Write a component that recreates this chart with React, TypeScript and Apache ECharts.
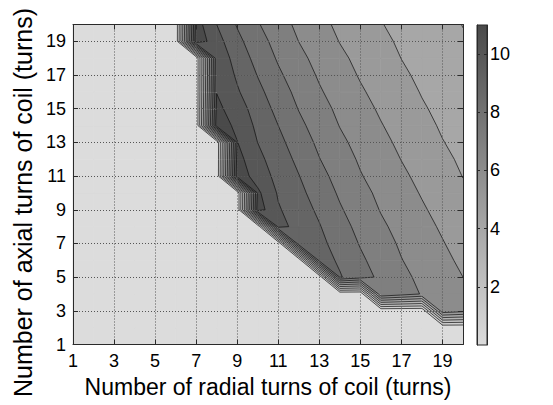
import React, { useEffect, useRef } from "react";
import * as echarts from "echarts";

// ---------- data ----------
const xValues = [1, 2, 3, 4, 5, 6, 7, 8, 9, 10, 11, 12, 13, 14, 15, 16, 17, 18, 19, 20];
const yValues = [1, 2, 3, 4, 5, 6, 7, 8, 9, 10, 11, 12, 13, 14, 15, 16, 17, 18, 19, 20];

// one row per axial turn count (y = 1..20); columns are radial turns x = 1..20 (0 = infeasible)
const row01 = [0, 0, 0, 0, 0, 0, 0, 0, 0, 0, 0, 0, 0, 0, 0, 0, 0, 0, 0, 0];
const row02 = [0, 0, 0, 0, 0, 0, 0, 0, 0, 0, 0, 0, 0, 0, 0, 0, 0, 0, 0, 0];
const row03 = [0, 0, 0, 0, 0, 0, 0, 0, 0, 0, 0, 0, 0, 0, 0, 0, 0, 0, 6.71, 6.33];
const row04 = [0, 0, 0, 0, 0, 0, 0, 0, 0, 0, 0, 0, 0, 0, 0, 7.98, 7.45, 6.94, 6.55, 6.17];
const row05 = [0, 0, 0, 0, 0, 0, 0, 0, 0, 0, 0, 0, 0, 9.08, 8.42, 7.79, 7.24, 6.78, 6.39, 6.0];
const row06 = [0, 0, 0, 0, 0, 0, 0, 0, 0, 0, 0, 0, 9.43, 8.86, 8.17, 7.58, 7.03, 6.62, 6.22, 5.82];
const row07 = [0, 0, 0, 0, 0, 0, 0, 0, 0, 0, 0, 9.82, 9.25, 8.61, 7.93, 7.37, 6.87, 6.46, 6.05, 5.65];
const row08 = [0, 0, 0, 0, 0, 0, 0, 0, 0, 0, 10.36, 9.65, 9.06, 8.36, 7.72, 7.16, 6.7, 6.29, 5.88, 5.48];
const row09 = [0, 0, 0, 0, 0, 0, 0, 0, 0, 11.5, 10.1, 9.46, 8.82, 8.1, 7.51, 6.95, 6.53, 6.11, 5.7, 5.3];
const row10 = [0, 0, 0, 0, 0, 0, 0, 0, 0, 11.2, 9.89, 9.25, 8.56, 7.87, 7.29, 6.79, 6.36, 5.93, 5.53, 5.14];
const row11 = [0, 0, 0, 0, 0, 0, 0, 0, 11.63, 10.55, 9.7, 9.03, 8.3, 7.65, 7.06, 6.61, 6.17, 5.76, 5.37, 4.98];
const row12 = [0, 0, 0, 0, 0, 0, 0, 0, 11.36, 10.27, 9.49, 8.78, 8.03, 7.43, 6.88, 6.43, 5.98, 5.59, 5.19, 4.86];
const row13 = [0, 0, 0, 0, 0, 0, 0, 0, 11.03, 9.99, 9.26, 8.51, 7.8, 7.2, 6.7, 6.24, 5.81, 5.42, 5.03, 4.75];
const row14 = [0, 0, 0, 0, 0, 0, 0, 11.55, 10.78, 9.77, 9.0, 8.23, 7.57, 6.97, 6.51, 6.05, 5.65, 5.25, 4.9, 4.64];
const row15 = [0, 0, 0, 0, 0, 0, 0, 11.25, 10.48, 9.53, 8.73, 7.96, 7.34, 6.79, 6.32, 5.87, 5.48, 5.09, 4.79, 4.53];
const row16 = [0, 0, 0, 0, 0, 0, 0, 10.97, 10.11, 9.26, 8.45, 7.73, 7.1, 6.59, 6.11, 5.7, 5.31, 4.95, 4.68, 4.42];
const row17 = [0, 0, 0, 0, 0, 0, 0, 10.85, 9.86, 8.96, 8.16, 7.49, 6.89, 6.39, 5.92, 5.53, 5.14, 4.83, 4.57, 4.31];
const row18 = [0, 0, 0, 0, 0, 0, 0, 10.74, 9.58, 8.67, 7.89, 7.25, 6.69, 6.19, 5.76, 5.37, 4.99, 4.72, 4.46, 4.2];
const row19 = [0, 0, 0, 0, 0, 0, 11.7, 10.38, 9.26, 8.39, 7.65, 6.99, 6.48, 5.97, 5.59, 5.2, 4.87, 4.61, 4.35, 4.08];
const row20 = [0, 0, 0, 0, 0, 0, 11.45, 10.0, 8.92, 8.08, 7.4, 6.79, 6.26, 5.81, 5.42, 5.04, 4.76, 4.5, 4.24, 3.98];

const zRows = [row01, row02, row03, row04, row05, row06, row07, row08, row09, row10,
  row11, row12, row13, row14, row15, row16, row17, row18, row19, row20];

const contourLevels = [0, 1, 2, 3, 4, 5, 6, 7, 8, 9, 10, 11];
const colorRange = [0, 11];
const xTicks = [1, 3, 5, 7, 9, 11, 13, 15, 17, 19];
const yTicks = [1, 3, 5, 7, 9, 11, 13, 15, 17, 19];
const colorbarTicks = [2, 4, 6, 8, 10];

const xTitle = "Number of radial turns of coil (turns)";
const yTitle = "Number of axial turns of coil (turns)";

// ---------- styling helpers ----------
const LIGHT = 220;
const DARK = 74;
function grayFor(v: number) {
  const t = (v - colorRange[0]) / (colorRange[1] - colorRange[0]);
  const g = Math.round(LIGHT - (LIGHT - DARK) * Math.max(0, Math.min(1, t)));
  return `rgb(${g},${g},${g})`;
}

type Pt = [number, number];
function cellLevelPolygon(xs: number[], ys: number[], vs: number[], L: number) {
  const pts: Pt[] = [];
  const cross: boolean[] = [];
  for (let a = 0; a < 4; a++) {
    const b = (a + 1) % 4;
    const ia = vs[a] >= L;
    const ib = vs[b] >= L;
    if (ia) {
      pts.push([xs[a], ys[a]]);
      cross.push(false);
    }
    if (ia !== ib) {
      const t = (L - vs[a]) / (vs[b] - vs[a]);
      pts.push([xs[a] + t * (xs[b] - xs[a]), ys[a] + t * (ys[b] - ys[a])]);
      cross.push(true);
    }
  }
  return { pts, cross };
}

function cellCorners(i: number, j: number) {
  const x0 = xValues[i], x1 = xValues[i + 1];
  const y0 = yValues[j], y1 = yValues[j + 1];
  const xs = [x0, x1, x1, x0];
  const ys = [y0, y0, y1, y1];
  const vs = [zRows[j][i], zRows[j][i + 1], zRows[j + 1][i + 1], zRows[j + 1][i]];
  return { xs, ys, vs };
}

const cells: number[][] = [];
for (let j = 0; j < yValues.length - 1; j++) {
  for (let i = 0; i < xValues.length - 1; i++) {
    cells.push([xValues[i], yValues[j], i, j]);
  }
}

const FONT = "'Liberation Sans', Arial, sans-serif";
const FRAME = "#2a2a2a";

export default function App() {
  const ref = useRef<HTMLDivElement>(null);
  useEffect(() => {
    if (!ref.current) return;
    const chart = echarts.init(ref.current, null, { renderer: "svg" });

    const fillItem = (params: any, api: any) => {
      const i = api.value(2) as number;
      const j = api.value(3) as number;
      const { xs, ys, vs } = cellCorners(i, j);
      const minV = Math.min(...vs);
      const maxV = Math.max(...vs);
      let base = 0;
      contourLevels.forEach((L, k) => {
        if (L <= minV) base = k;
      });
      const children: any[] = [];
      const full = [0, 1, 2, 3].map((k) => api.coord([xs[k], ys[k]]));
      const c0 = grayFor(contourLevels[base]);
      children.push({
        type: "polygon",
        shape: { points: full },
        style: { fill: c0, stroke: c0, lineWidth: 0.8 },
      });
      for (let k = base + 1; k < contourLevels.length; k++) {
        const L = contourLevels[k];
        if (maxV < L) break;
        const { pts } = cellLevelPolygon(xs, ys, vs, L);
        if (pts.length < 3) continue;
        const c = grayFor(L);
        children.push({
          type: "polygon",
          shape: { points: pts.map((p) => api.coord(p)) },
          style: { fill: c, stroke: c, lineWidth: 0.6 },
        });
      }
      return { type: "group", children };
    };

    const lineItem = (params: any, api: any) => {
      const i = api.value(2) as number;
      const j = api.value(3) as number;
      const { xs, ys, vs } = cellCorners(i, j);
      const minV = Math.min(...vs);
      const maxV = Math.max(...vs);
      const children: any[] = [];
      for (let k = 1; k < contourLevels.length; k++) {
        const L = contourLevels[k];
        if (L <= minV || L > maxV) continue;
        const { pts, cross } = cellLevelPolygon(xs, ys, vs, L);
        const n = pts.length;
        for (let a = 0; a < n; a++) {
          const b = (a + 1) % n;
          if (cross[a] && cross[b]) {
            const p = api.coord(pts[a]);
            const q = api.coord(pts[b]);
            children.push({
              type: "line",
              shape: { x1: p[0], y1: p[1], x2: q[0], y2: q[1] },
              style: { stroke: "#111", lineWidth: 0.7 },
            });
          }
        }
      }
      return { type: "group", children };
    };

    const colorbarItem = (params: any, api: any) => {
      const p0 = api.coord([0, api.value(1)]);
      const p1 = api.coord([1, api.value(0)]);
      return {
        type: "rect",
        shape: { x: p0[0], y: p0[1], width: p1[0] - p0[0], height: p1[1] - p0[1] },
        style: {
          fill: new echarts.graphic.LinearGradient(0, 0, 0, 1, [
            { offset: 0, color: grayFor(colorRange[1]) },
            { offset: 1, color: grayFor(colorRange[0]) },
          ]),
          stroke: FRAME,
          lineWidth: 1,
        },
      };
    };

    const tickStyle = { color: FRAME, width: 1 };
    const labelStyle = { color: "#000", fontSize: 18, fontFamily: FONT };

    const option: any = {
      animation: false,
      backgroundColor: "#fff",
      textStyle: { fontFamily: FONT },
      grid: [
        { left: 73, top: 24.5, width: 390, height: 320 },
        { left: 477, top: 25, width: 10, height: 320 },
      ],
      xAxis: [
        {
          type: "value", gridIndex: 0, min: 1, max: 20, position: "bottom", z: 6,
          axisLine: { show: true, onZero: false, lineStyle: tickStyle },
          axisTick: { show: true, inside: true, length: 5, customValues: xTicks, lineStyle: tickStyle },
          axisLabel: { show: true, customValues: xTicks, margin: 7, ...labelStyle },
          splitLine: { show: true, customValues: xTicks, lineStyle: { color: "#555", width: 1, type: [1, 2] } },
          name: xTitle, nameLocation: "middle", nameGap: 31,
          nameTextStyle: { fontSize: 23, color: "#000", fontFamily: FONT },
        },
        {
          type: "value", gridIndex: 0, min: 1, max: 20, position: "top", z: 6,
          axisLine: { show: true, onZero: false, lineStyle: tickStyle },
          axisTick: { show: true, inside: true, length: 5, customValues: xTicks, lineStyle: tickStyle },
          axisLabel: { show: false },
          splitLine: { show: false },
        },
        { type: "value", gridIndex: 1, min: 0, max: 1, show: false },
      ],
      yAxis: [
        {
          type: "value", gridIndex: 0, min: 1, max: 20, position: "left", z: 6,
          axisLine: { show: true, onZero: false, lineStyle: tickStyle },
          axisTick: { show: true, inside: true, length: 5, customValues: yTicks, lineStyle: tickStyle },
          axisLabel: { show: true, customValues: yTicks, margin: 7, ...labelStyle },
          splitLine: { show: true, customValues: yTicks, lineStyle: { color: "#555", width: 1, type: [1, 2] } },
          name: yTitle, nameLocation: "middle", nameGap: 30, nameRotate: 90,
          nameTextStyle: { fontSize: 25, color: "#000", fontFamily: FONT, padding: [0, 36, 0, 0] },
        },
        {
          type: "value", gridIndex: 0, min: 1, max: 20, position: "right", z: 6,
          axisLine: { show: true, onZero: false, lineStyle: tickStyle },
          axisTick: { show: true, inside: true, length: 5, customValues: yTicks, lineStyle: tickStyle },
          axisLabel: { show: false },
          splitLine: { show: false },
        },
        {
          type: "value", gridIndex: 1, min: colorRange[0], max: colorRange[1], interval: 2, position: "right", z: 6,
          axisLine: { show: true, onZero: false, lineStyle: tickStyle },
          axisTick: { show: true, inside: true, length: 3, customValues: colorbarTicks, lineStyle: tickStyle },
          axisLabel: { show: true, customValues: colorbarTicks, margin: 3, ...labelStyle },
          splitLine: { show: false },
        },
        {
          type: "value", gridIndex: 1, min: colorRange[0], max: colorRange[1], interval: 2, position: "left", z: 6,
          axisLine: { show: true, onZero: false, lineStyle: tickStyle },
          axisTick: { show: true, inside: true, length: 3, customValues: colorbarTicks, lineStyle: tickStyle },
          axisLabel: { show: false },
          splitLine: { show: false },
        },
      ],
      series: [
        {
          type: "custom", name: "fill", xAxisIndex: 0, yAxisIndex: 0, z: 2, silent: true,
          renderItem: fillItem, data: cells,
        },
        {
          type: "custom", name: "lines", xAxisIndex: 0, yAxisIndex: 0, z: 3, silent: true,
          renderItem: lineItem, data: cells,
        },
        {
          type: "custom", name: "colorbar", xAxisIndex: 2, yAxisIndex: 2, z: 2, silent: true,
          renderItem: colorbarItem, data: [[colorRange[0], colorRange[1]]],
        },
      ],
    };
    chart.setOption(option);
    return () => chart.dispose();
  }, []);
  return (
    <div
      ref={ref}
      style={{ position: "absolute", left: 0, top: 0, width: 553, height: 405, background: "#fff" }}
    />
  );
}
